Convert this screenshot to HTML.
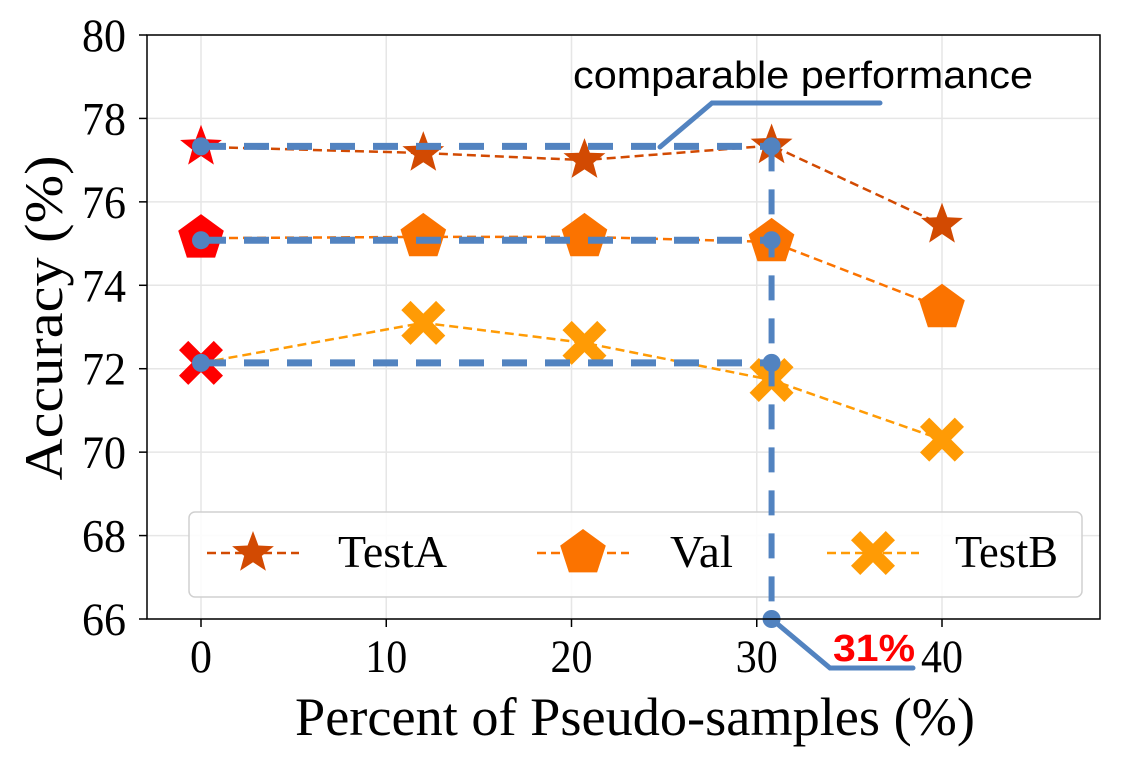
<!DOCTYPE html>
<html><head><meta charset="utf-8"><style>
html,body{margin:0;padding:0;background:#fff;}
svg{display:block;font-family:"Liberation Serif",serif;}
</style></head><body>
<svg id="chart" width="1146" height="762" xmlns="http://www.w3.org/2000/svg"></svg>
<script>
const xValues = [0, 12, 20.7, 30.8, 40];
const testA = [77.32, 77.17, 77.0, 77.35, 75.45];
const valS = [75.13, 75.16, 75.16, 75.04, 73.46];
const testB = [72.14, 73.1, 72.62, 71.73, 70.3];
const xTicks = [0, 10, 20, 30, 40];
const yTicks = [66, 68, 70, 72, 74, 76, 78, 80];
const refLevels = [77.33, 75.08, 72.14];
const refX = 30.8;

const L=147,R=1100,T=35,B=619;
const xs=v=>201+(v)*(942-201)/40;
const ys=v=>B-(v-66)*(B-T)/14;
const NS="http://www.w3.org/2000/svg";
const svg=document.getElementById('chart');
function mk(tag,attrs,parent){const e=document.createElementNS(NS,tag);for(const k in attrs)e.setAttribute(k,attrs[k]);(parent||svg).appendChild(e);return e;}

// grid
const grid=mk('g',{});


xTicks.forEach(t=>mk('line',{x1:xs(t),x2:xs(t),y1:T,y2:B,stroke:'#e6e6e6','stroke-width':1.5},grid));
yTicks.forEach(t=>mk('line',{x1:L,x2:R,y1:ys(t),y2:ys(t),stroke:'#e6e6e6','stroke-width':1.5},grid));

// ticks & labels
xTicks.forEach(t=>{
  mk('line',{x1:xs(t),x2:xs(t),y1:B,y2:B+8,stroke:'#000','stroke-width':1.5});
  const tx=mk('text',{x:xs(t),y:672,'font-size':47,'text-anchor':'middle',textLength:t===0?22:42,lengthAdjust:'spacingAndGlyphs'});
  tx.textContent=t;
  
  
});
yTicks.forEach(t=>{
  mk('line',{x1:L-8,x2:L,y1:ys(t),y2:ys(t),stroke:'#000','stroke-width':1.5});
  const tx=mk('text',{x:126,y:ys(t)+16,'font-size':47,'text-anchor':'end',textLength:44,lengthAdjust:'spacingAndGlyphs'});
  tx.textContent=t;
  
  
});

function star(cx,cy,r,fill,g){let p=[];for(let i=0;i<10;i++){const a=-Math.PI/2+i*Math.PI/5;const rr=i%2?r*0.42:r;p.push((cx+rr*Math.cos(a)).toFixed(1)+','+(cy+rr*Math.sin(a)).toFixed(1));}return mk('polygon',{points:p.join(' '),fill:fill},g);}
function pent(cx,cy,r,fill,g){let p=[];for(let i=0;i<5;i++){const a=-Math.PI/2+i*2*Math.PI/5;p.push((cx+r*Math.cos(a)).toFixed(1)+','+(cy+r*Math.sin(a)).toFixed(1));}return mk('polygon',{points:p.join(' '),fill:fill},g);}
function cross(cx,cy,s,fill,g){const a=s,b=s*0.42;const pts=[[-a,-a+b],[-a+b,-a],[0,-b],[a-b,-a],[a,-a+b],[b,0],[a,a-b],[a-b,a],[0,b],[-a+b,a],[-a,a-b],[-b,0]];return mk('polygon',{points:pts.map(p=>(cx+p[0])+','+(cy+p[1])).join(' '),fill:fill},g);}

const series=[
 {name:'testa',vals:testA,color:'#d24a02',mark:star,size:22},
 {name:'val',vals:valS,color:'#fb7300',mark:pent,size:24},
 {name:'testb',vals:testB,color:'#ff9b05',mark:cross,size:22}
];
series.forEach(s=>{
  const g=mk('g',{});
  
  
  const line=mk('polyline',{points:s.vals.map((v,i)=>xs(xValues[i])+','+ys(v)).join(' '),fill:'none',stroke:s.color,'stroke-width':2.5,'stroke-dasharray':'9,5'},g);
  
  
  s.vals.forEach((v,i)=>{
    const m=s.mark(xs(xValues[i]),ys(v),s.size,i===0?'#ff0000':s.color,g);
    
    
  });
});

// legend
const lg=mk('g',{});


mk('rect',{x:189,y:512,width:893,height:85,rx:6,fill:'rgba(255,255,255,0.85)',stroke:'#d0d0d0','stroke-width':1.5},lg);
const legX=[[207,338,'TestA',109],[537,670,'Val',63],[827,955,'TestB',103]];
series.forEach((s,i)=>{
  const e=mk('g',{},lg);
  
  
  const x0=legX[i][0];
  mk('line',{x1:x0,x2:x0+92,y1:553,y2:553,stroke:s.color,'stroke-width':2.5,'stroke-dasharray':'9,5'},e);
  s.mark(x0+46,553,s.size,s.color,e);
  const t=mk('text',{x:legX[i][1],y:567,'font-size':46,textLength:legX[i][3],lengthAdjust:'spacingAndGlyphs'},e);
  t.textContent=legX[i][2];
});

// reference lines
const ref=mk('g',{});


refLevels.forEach(v=>{
  mk('line',{x1:xs(0),x2:xs(refX),y1:ys(v),y2:ys(v),stroke:'#5283c0','stroke-width':7,'stroke-dasharray':'25,18'},ref);
});
mk('line',{x1:xs(refX),x2:xs(refX),y1:ys(refLevels[0]),y2:B,stroke:'#5283c0','stroke-width':6,'stroke-dasharray':'25,18'},ref);
refLevels.forEach(v=>{
  mk('circle',{cx:xs(0),cy:ys(v),r:9,fill:'#5283c0'},ref);
  mk('circle',{cx:xs(refX),cy:ys(v),r:9,fill:'#5283c0'},ref);
});
mk('circle',{cx:xs(refX),cy:B,r:9,fill:'#5283c0'},ref);
mk('polyline',{points:'660,147 712,103 880,103',fill:'none',stroke:'#5283c0','stroke-width':5,'stroke-linecap':'round'},ref);
mk('polyline',{points:xs(refX)+','+B+' 830,668 913,668',fill:'none',stroke:'#5283c0','stroke-width':5,'stroke-linecap':'round'},ref);

// frame
const frame=mk('rect',{x:L,y:T,width:R-L,height:B-T,fill:'none',stroke:'#000','stroke-width':1.5});



// annotations
const a1=mk('text',{x:573,y:88,'font-size':38,'font-family':'Liberation Sans, sans-serif',textLength:460,lengthAdjust:'spacingAndGlyphs'});
a1.textContent='comparable performance';


const a2=mk('text',{x:833,y:661,'font-size':38,'font-weight':'bold',fill:'#ff0000','font-family':'Liberation Sans, sans-serif',textLength:82,lengthAdjust:'spacingAndGlyphs'});
a2.textContent='31%';



// axis titles
const xt=mk('text',{x:295,y:735,'font-size':54,textLength:680,lengthAdjust:'spacingAndGlyphs'});
xt.textContent='Percent of Pseudo-samples (%)';


const yt=mk('text',{x:0,y:0,'font-size':54,'text-anchor':'middle',textLength:325,lengthAdjust:'spacingAndGlyphs',transform:'translate(62,318) rotate(-90)'});
yt.textContent='Accuracy (%)';


</script>
</body></html>
